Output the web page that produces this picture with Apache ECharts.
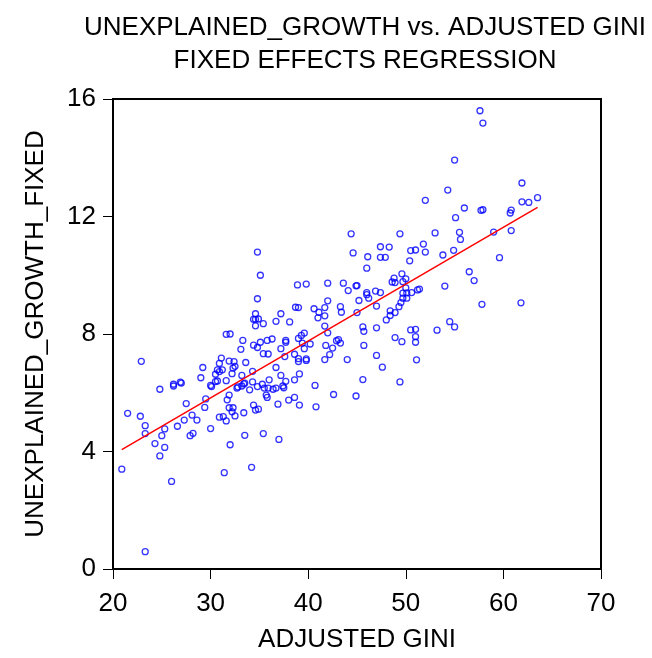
<!DOCTYPE html>
<html>
<head>
<meta charset="utf-8">
<script src="https://cdn.jsdelivr.net/npm/echarts@6/dist/echarts.min.js"></script>
<style>
html,body{margin:0;padding:0;background:#fff;}
#chart{width:652px;height:658px;}
</style>
</head>
<body>
<div id="chart"></div>
<script>
var titleLines = ["UNEXPLAINED_GROWTH vs. ADJUSTED GINI", "FIXED EFFECTS REGRESSION"];
var xAxisName = "ADJUSTED GINI";
var yAxisName = "UNEXPLAINED_GROWTH_FIXED";
var xTicks = [20, 30, 40, 50, 60, 70];
var yTicks = [0, 4, 8, 12, 16];

// ADJUSTED GINI values
var gini = [
20.9,21.5,22.8,22.9,23.3,23.3,23.3,24.3,24.8,24.8,25.0,25.3,25.3,26.0,26.2,26.2,26.6,26.9,27.0,27.3,
27.5,27.9,28.2,28.1,28.6,29.0,29.2,29.4,29.5,30.0,30.1,30.0,30.5,30.7,30.5,30.7,30.9,31.2,30.9,31.1,
30.9,31.3,31.6,31.4,31.6,32.0,31.6,31.7,31.9,31.9,32.2,32.3,32.4,32.5,32.0,31.9,32.3,32.2,32.5,32.7,
32.8,33.1,33.3,33.2,33.2,33.4,33.5,33.4,33.5,33.6,34.0,34.2,34.3,34.3,34.4,34.6,34.9,34.4,34.6,34.8,
34.8,35.1,35.3,35.4,35.4,35.9,35.5,35.9,35.7,35.8,36.0,35.8,36.3,36.7,36.4,36.7,36.9,37.0,37.2,37.4,
37.5,37.7,37.2,37.6,37.7,37.7,38.0,38.6,38.6,38.6,39.0,39.0,39.1,39.1,39.0,39.3,39.6,39.4,39.6,40.2,
39.8,39.8,40.7,40.8,41.7,42.0,41.8,41.7,42.2,42.5,42.6,42.9,43.1,43.3,44.0,44.9,
34.8,35.1,34.8,34.6,34.4,34.6,34.9,35.4,36.7,37.2,38.1,38.9,39.8,38.7,39.0,40.6,41.1,41.0,41.7,41.7,
42.0,42.0,43.3,43.4,43.6,44.1,44.4,44.6,44.9,45.2,45.0,
57.6,57.9,55.0,61.9,54.3,52.0,61.9,62.6,63.5,56.0,57.7,57.9,60.8,60.7,55.1,59.0,60.8,55.5,55.6,53.0,
49.4,54.9,53.8,51.8,52.0,47.4,48.3,47.4,47.9,46.1,50.5,51.0,50.4,46.0,59.6,56.5,57.0,54.0,57.8,61.8,
49.6,48.6,48.8,48.9,49.7,50.0,50.0,49.7,50.1,50.6,51.2,51.4,45.0,46.0,46.0,46.2,46.9,47.4,47.0,49.7,
50.1,49.5,49.3,48.4,48.9,48.4,48.0,54.5,55.0,45.6,47.0,50.5,51.0,53.2,45.7,45.7,47.0,47.6,48.9,49.6,
51.0,51.0,51.1,45.6,49.4
];
// UNEXPLAINED_GROWTH_FIXED values
var growth = [
3.40,5.30,5.20,7.07,4.88,4.61,0.59,4.27,3.85,6.12,4.54,4.77,4.14,2.98,6.29,6.23,4.86,6.36,6.33,5.07,
5.63,4.54,4.62,5.24,5.07,6.51,6.86,5.50,5.79,6.25,6.21,4.78,6.38,6.40,6.63,6.78,6.72,6.78,7.00,7.18,
5.17,5.19,5.04,3.28,7.99,8.00,6.41,5.76,5.92,7.08,6.65,6.84,7.06,6.90,4.23,5.49,5.49,5.35,5.21,6.16,
6.20,7.48,7.78,6.59,6.23,6.30,6.33,5.32,4.55,7.03,6.10,3.46,6.73,6.37,5.58,5.41,5.44,7.62,8.28,6.21,
7.54,7.72,6.29,4.61,7.33,7.32,6.16,6.16,5.92,5.84,6.44,7.78,7.83,6.86,6.12,6.16,5.61,4.41,6.59,6.23,
6.17,6.39,7.50,7.23,7.78,7.72,5.75,5.84,6.44,7.31,7.16,7.06,6.64,5.58,7.85,7.95,8.03,7.69,7.50,7.66,
7.15,7.10,6.25,5.52,8.27,8.04,7.61,7.13,7.30,7.52,5.94,7.77,7.81,7.69,7.13,5.89,
10.79,10.00,9.20,8.69,8.50,8.50,8.51,8.35,8.43,8.69,8.41,9.67,9.70,8.91,8.90,8.86,8.74,8.55,8.90,8.62,
9.73,9.13,8.93,8.74,9.73,9.48,11.41,10.76,9.64,9.14,8.73,
15.60,15.18,13.92,13.14,12.90,12.55,12.50,12.48,12.64,12.29,12.21,12.23,12.22,12.12,11.96,11.47,11.52,11.46,11.22,11.44,
11.41,10.85,10.69,11.06,10.79,10.97,10.96,10.61,10.61,10.63,10.84,10.86,10.49,10.24,10.60,10.12,9.82,9.63,9.01,9.06,
10.05,9.77,9.90,9.75,9.78,9.88,9.57,9.39,9.40,9.41,9.50,9.53,9.65,9.41,9.34,9.22,9.46,9.41,8.95,9.22,
9.22,9.07,8.93,8.79,8.73,8.63,8.48,8.42,8.24,8.24,8.21,8.14,8.16,8.13,8.09,7.61,7.27,6.87,7.88,7.74,
7.91,7.72,7.12,6.45,6.37
];

// least-squares fit line computed from the data
function fit(xs, ys) {
  var n = Math.min(xs.length, ys.length), sx = 0, sy = 0, sxx = 0, sxy = 0;
  for (var i = 0; i < n; i++) { sx += xs[i]; sy += ys[i]; sxx += xs[i]*xs[i]; sxy += xs[i]*ys[i]; }
  var b = (n*sxy - sx*sy) / (n*sxx - sx*sx);
  var a = (sy - b*sx) / n;
  return {a: a, b: b};
}
var n = Math.min(gini.length, growth.length);
var pts = [];
for (var i = 0; i < n; i++) pts.push([gini[i], growth[i]]);
var f = fit(gini, growth);
var xmin = Math.min.apply(null, gini), xmax = Math.max.apply(null, gini);
var fitLine = [[xmin, f.a + f.b*xmin], [xmax, f.a + f.b*xmax]];

var FONT = "'Liberation Sans', Arial, sans-serif";
var chart = echarts.init(document.getElementById('chart'), null, {renderer: 'canvas'});
chart.setOption({
  backgroundColor: '#ffffff',
  animation: false,
  title: {
    text: titleLines.join('\n'),
    left: 360,
    top: 6,
    textAlign: 'center',
    textStyle: {fontFamily: FONT, fontSize: 26, fontWeight: 'normal', color: '#000', lineHeight: 33}
  },
  grid: {left: 113, right: 51, top: 99, bottom: 89, show: true, borderColor: '#000', borderWidth: 2, backgroundColor: '#fff'},
  xAxis: {
    type: 'value', min: xTicks[0], max: xTicks[xTicks.length-1], interval: 10,
    name: xAxisName, nameLocation: 'middle', nameGap: 58,
    nameTextStyle: {fontFamily: FONT, fontSize: 26, color: '#000'},
    axisLine: {show: true, onZero: false, lineStyle: {color: '#000', width: 2}},
    axisTick: {show: true, inside: false, length: 10, lineStyle: {color: '#000', width: 1}},
    axisLabel: {margin: 22, fontFamily: FONT, fontSize: 26, color: '#000'},
    splitLine: {show: false}
  },
  yAxis: {
    type: 'value', min: yTicks[0], max: yTicks[yTicks.length-1], interval: 4,
    name: yAxisName, nameLocation: 'middle', nameGap: 64, nameRotate: 90,
    nameTextStyle: {fontFamily: FONT, fontSize: 26, color: '#000'},
    axisLine: {show: true, onZero: false, lineStyle: {color: '#000', width: 2}},
    axisTick: {show: true, inside: false, length: 10, lineStyle: {color: '#000', width: 1}},
    axisLabel: {margin: 17, fontFamily: FONT, fontSize: 26, color: '#000'},
    splitLine: {show: false}
  },
  series: [
    {
      type: 'scatter', data: pts, symbol: 'circle', symbolSize: 6,
      itemStyle: {color: 'rgba(0,0,0,0)', borderColor: '#0000ff', borderWidth: 1.3},
      z: 2
    },
    {
      type: 'line', data: fitLine, symbol: 'none',
      lineStyle: {color: '#ff0000', width: 1.5}, z: 3
    }
  ]
});
</script>
</body>
</html>
